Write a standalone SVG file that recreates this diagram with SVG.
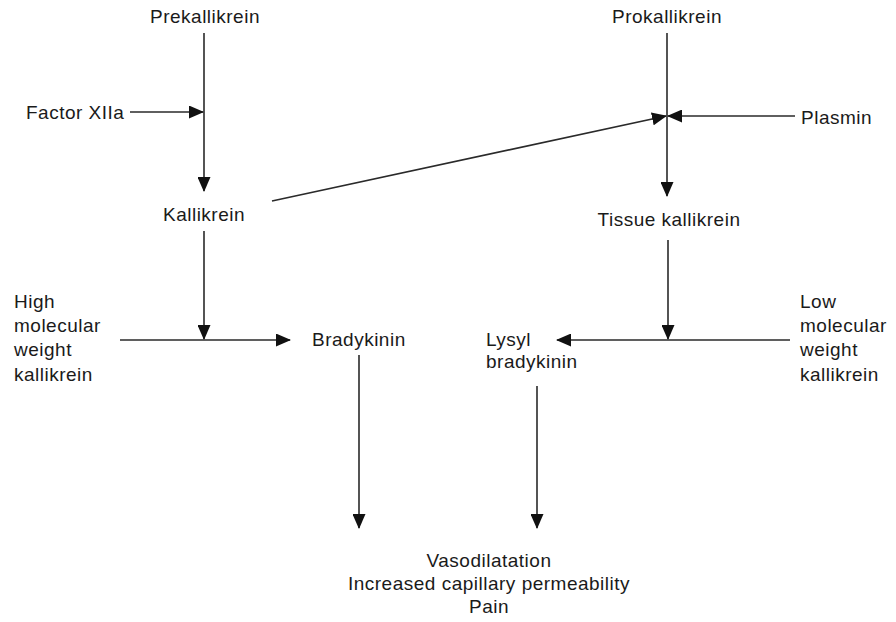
<svg xmlns="http://www.w3.org/2000/svg" width="896" height="622" viewBox="0 0 896 622">
<style>
text{font-family:"Liberation Sans",Arial,sans-serif;font-size:19px;letter-spacing:0.5px;fill:#1a1a1a}
.c{text-anchor:middle}
.ln{stroke:#2a2a2a;stroke-width:1.6;fill:none}
</style>
<defs>
<marker id="ah" markerWidth="15" markerHeight="13" refX="14" refY="6.5" orient="auto" markerUnits="userSpaceOnUse">
<path d="M0,0 L15,6.5 L0,13 Z" fill="#111"/>
</marker>
</defs>
<rect width="896" height="622" fill="#fff"/>
<g id="connectors">
<line class="ln" x1="204" y1="33" x2="204" y2="191" marker-end="url(#ah)"/>
<line class="ln" x1="130" y1="112" x2="203" y2="112" marker-end="url(#ah)"/>
<line class="ln" x1="204" y1="231" x2="204" y2="339" marker-end="url(#ah)"/>
<line class="ln" x1="120" y1="340" x2="290" y2="340" marker-end="url(#ah)"/>
<line class="ln" x1="272" y1="201" x2="666" y2="116" marker-end="url(#ah)"/>
<line class="ln" x1="667" y1="33" x2="667" y2="196" marker-end="url(#ah)"/>
<line class="ln" x1="795" y1="116" x2="668" y2="116" marker-end="url(#ah)"/>
<line class="ln" x1="668" y1="240" x2="668" y2="339" marker-end="url(#ah)"/>
<line class="ln" x1="790" y1="340" x2="557" y2="340" marker-end="url(#ah)"/>
<line class="ln" x1="359" y1="355" x2="359" y2="528" marker-end="url(#ah)"/>
<line class="ln" x1="537" y1="386" x2="537" y2="528" marker-end="url(#ah)"/>
</g>
<g id="prekallikrein"><text class="c" x="205" y="23">Prekallikrein</text></g>
<g id="factorXIIa"><text x="26" y="119">Factor XIIa</text></g>
<g id="kallikrein"><text class="c" x="204" y="221">Kallikrein</text></g>
<g id="hmwk"><text x="14" y="308">High</text><text x="14" y="332">molecular</text><text x="14" y="356">weight</text><text x="14" y="381">kallikrein</text></g>
<g id="bradykinin"><text x="312" y="346">Bradykinin</text></g>
<g id="prokallikrein"><text class="c" x="667" y="23">Prokallikrein</text></g>
<g id="plasmin"><text x="801" y="124">Plasmin</text></g>
<g id="tissuekallikrein"><text class="c" x="669" y="226">Tissue kallikrein</text></g>
<g id="lysylbradykinin"><text x="486" y="346">Lysyl</text><text x="486" y="368">bradykinin</text></g>
<g id="lmwk"><text x="800" y="308">Low</text><text x="800" y="332">molecular</text><text x="800" y="356">weight</text><text x="800" y="381">kallikrein</text></g>
<g id="effects"><text class="c" x="489" y="567">Vasodilatation</text><text class="c" x="489" y="590">Increased capillary permeability</text><text class="c" x="489" y="613">Pain</text></g>
</svg>
